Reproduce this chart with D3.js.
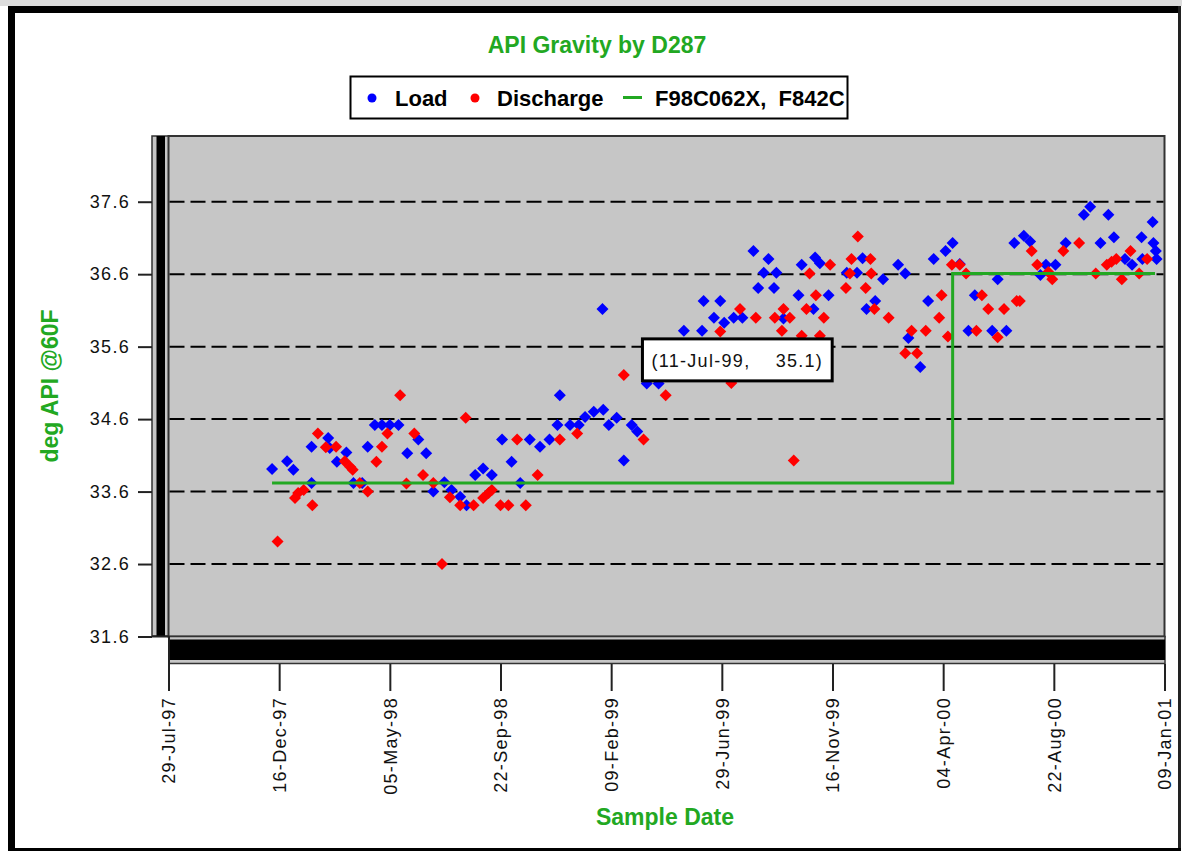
<!DOCTYPE html>
<html>
<head>
<meta charset="utf-8">
<script src="https://cdn.jsdelivr.net/npm/d3@7"></script>
<style>
body{margin:0;background:#fff;}
svg{display:block;font-family:Arial,"Liberation Sans",sans-serif;}
</style>
</head>
<body>
<script>
// dati
var loadDates = ["07-Dec-97","26-Dec-97","03-Jan-98","26-Jan-98","26-Jan-98","16-Feb-98","18-Feb-98","27-Feb-98","11-Mar-98","20-Mar-98",
  "31-Mar-98","07-Apr-98","16-Apr-98","25-Apr-98","05-May-98","16-May-98","27-May-98","10-Jun-98","20-Jun-98","29-Jun-98",
  "13-Jul-98","22-Jul-98","02-Aug-98","10-Aug-98","21-Aug-98","31-Aug-98","11-Sep-98","24-Sep-98","06-Oct-98","17-Oct-98",
  "29-Oct-98","11-Nov-98","23-Nov-98","03-Dec-98","06-Dec-98","19-Dec-98","30-Dec-98","07-Jan-99","18-Jan-99","30-Jan-99",
  "29-Jan-99","06-Feb-99","16-Feb-99","25-Feb-99","07-Mar-99","14-Mar-99","26-Mar-99","10-Apr-99","12-May-99","04-Jun-99",
  "06-Jun-99","19-Jun-99","27-Jun-99","02-Jul-99","14-Jul-99","25-Jul-99","08-Aug-99","14-Aug-99","21-Aug-99","27-Aug-99",
  "03-Sep-99","06-Sep-99","15-Sep-99","04-Oct-99","08-Oct-99","23-Oct-99","25-Oct-99","31-Oct-99","11-Nov-99","04-Dec-99",
  "17-Dec-99","24-Dec-99","29-Dec-99","09-Jan-00","19-Jan-00","07-Feb-00","16-Feb-00","20-Feb-00","06-Mar-00","16-Mar-00",
  "23-Mar-00","07-Apr-00","16-Apr-00","25-Apr-00","06-May-00","14-May-00","05-Jun-00","12-Jun-00","23-Jun-00","03-Jul-00",
  "15-Jul-00","23-Jul-00","05-Aug-00","12-Aug-00","24-Aug-00","06-Sep-00","29-Sep-00","07-Oct-00","20-Oct-00","30-Oct-00",
  "06-Nov-00","20-Nov-00","29-Nov-00","11-Dec-00","12-Dec-00","25-Dec-00","26-Dec-00","29-Dec-00","30-Dec-00"];
var loadValues = [33.91,34.02,33.90,34.22,33.72,34.34,34.20,34.01,34.14,33.72,
  33.72,34.22,34.52,34.52,34.52,34.52,34.13,34.32,34.13,33.60,
  33.73,33.62,33.53,33.41,33.83,33.92,33.83,34.32,34.01,33.72,
  34.32,34.22,34.32,34.52,34.93,34.52,34.52,34.63,34.70,34.73,
  36.12,34.52,34.62,34.03,34.52,34.43,35.09,35.09,35.82,35.82,
  36.23,36.00,36.23,35.93,36.00,36.00,36.92,36.41,36.62,36.81,
  36.41,36.62,35.99,36.31,36.73,36.12,36.83,36.75,36.31,36.62,
  36.62,36.82,36.12,36.23,36.53,36.73,36.61,35.72,35.32,36.23,
  36.81,36.92,37.03,36.74,35.82,36.31,35.82,36.53,35.82,37.03,
  37.13,37.05,36.59,36.73,36.73,37.03,37.42,37.53,37.03,37.42,
  37.11,36.81,36.73,37.11,36.81,37.32,37.03,36.92,36.81];

var dischargeDates = ["14-Dec-97","05-Jan-98","09-Jan-98","16-Jan-98","27-Jan-98","03-Feb-98","13-Feb-98","26-Feb-98","09-Mar-98","16-Mar-98",
  "19-Mar-98","28-Mar-98","07-Apr-98","18-Apr-98","25-Apr-98","02-May-98","18-May-98","26-May-98","05-Jun-98","16-Jun-98",
  "29-Jun-98","10-Jul-98","20-Jul-98","02-Aug-98","09-Aug-98","19-Aug-98","31-Aug-98","07-Sep-98","11-Sep-98","22-Sep-98",
  "02-Oct-98","13-Oct-98","24-Oct-98","08-Nov-98","06-Dec-98","28-Dec-98","25-Feb-99","22-Mar-99","19-Apr-99","27-Jun-99",
  "11-Jul-99","22-Jul-99","11-Aug-99","04-Sep-99","13-Sep-99","15-Sep-99","23-Sep-99","28-Sep-99","08-Oct-99","14-Oct-99",
  "18-Oct-99","26-Oct-99","31-Oct-99","05-Nov-99","13-Nov-99","03-Dec-99","08-Dec-99","10-Dec-99","18-Dec-99","28-Dec-99",
  "03-Jan-00","04-Jan-00","08-Jan-00","26-Jan-00","16-Feb-00","24-Feb-00","02-Mar-00","13-Mar-00","30-Mar-00","02-Apr-00",
  "10-Apr-00","15-Apr-00","25-Apr-00","03-May-00","16-May-00","23-May-00","31-May-00","12-Jun-00","20-Jun-00","06-Jul-00",
  "10-Jul-00","25-Jul-00","01-Aug-00","15-Aug-00","20-Aug-00","03-Sep-00","23-Sep-00","14-Oct-00","28-Oct-00","03-Nov-00",
  "09-Nov-00","16-Nov-00","27-Nov-00","08-Dec-00","18-Dec-00"];
var dischargeValues = [32.91,33.51,33.58,33.62,33.41,34.40,34.21,34.22,34.02,33.94,
  33.90,33.72,33.60,34.01,34.22,34.40,34.93,33.71,34.40,33.83,
  33.72,32.60,33.52,33.41,34.62,33.41,33.51,33.58,33.62,33.41,
  33.41,34.32,33.41,33.83,34.32,34.40,35.21,34.32,34.93,35.81,
  35.10,36.12,36.00,36.00,35.82,36.12,36.00,34.03,35.75,36.12,
  36.61,36.31,35.75,36.00,36.73,36.41,36.61,36.81,37.12,36.41,
  36.81,36.61,36.12,36.00,35.51,35.82,35.51,35.82,36.00,36.31,
  35.74,36.73,36.73,36.61,35.82,36.31,36.12,35.73,36.12,36.23,
  36.23,36.92,36.73,36.63,36.53,36.92,37.03,36.61,36.73,36.77,
  36.81,36.53,36.92,36.61,36.81];

// specifica F98C062X poi F842C (linea a gradino)
var specDates = ["07-Dec-97","16-Apr-00","28-Dec-00"];
var specValues = [33.72,36.61,36.61];

var yTicks = [31.6,32.6,33.6,34.6,35.6,36.6,37.6];
var xTicks = ["29-Jul-97","16-Dec-97","05-May-98","22-Sep-98","09-Feb-99","29-Jun-99","16-Nov-99","04-Apr-00","22-Aug-00","09-Jan-01"];

var tipDate = "11-Jul-99";
var tipValue = 35.1;

var green = "#22a822";
var plotFill = "#c6c6c6";

var svg = d3.select("body").append("svg")
    .attr("width", 1182)
    .attr("height", 851);

var parse = d3.timeParse("%d-%b-%y");

var x = d3.scaleTime()
    .domain([parse(xTicks[0]), parse(xTicks[xTicks.length-1])])
    .range([168.5, 1164.5]);
var y = d3.scaleLinear()
    .domain([31.6, 38.5])
    .range([636.5, 136.5]);

// cornice esterna
svg.append("rect").attr("x",0).attr("y",0).attr("width",1182).attr("height",6).attr("fill","#dcdcdc");
svg.append("rect").attr("x",8).attr("y",6).attr("width",1173).attr("height",7).attr("fill","#000");
svg.append("rect").attr("x",8).attr("y",6).attr("width",7).attr("height",845).attr("fill","#000");
svg.append("rect").attr("x",1178).attr("y",6).attr("width",3).attr("height",845).attr("fill","#222");
svg.append("rect").attr("x",8).attr("y",848).attr("width",1173).attr("height",3).attr("fill","#000");

// titolo
svg.append("text")
    .attr("x", 597).attr("y", 53)
    .attr("text-anchor","middle")
    .style("font-size","23px").style("font-weight","bold")
    .attr("fill", green)
    .text("API Gravity by D287");

// legenda
var legend = svg.append("g");
legend.append("rect")
    .attr("x",350.5).attr("y",76.5).attr("width",497).attr("height",42)
    .attr("fill","#fff").attr("stroke","#000").attr("stroke-width",2);
legend.append("circle").attr("cx",372).attr("cy",98).attr("r",4.5).attr("fill","#0000ff");
legend.append("text").attr("x",395).attr("y",105.5).text("Load");
legend.append("circle").attr("cx",475).attr("cy",98).attr("r",4.5).attr("fill","#ff0000");
legend.append("text").attr("x",497).attr("y",105.5).text("Discharge");
legend.append("line").attr("x1",623).attr("x2",642).attr("y1",97.5).attr("y2",97.5)
    .attr("stroke",green).attr("stroke-width",3);
legend.append("text").attr("x",655).attr("y",105.5).attr("xml:space","preserve").text("F98C062X,  F842C");
legend.selectAll("text").style("font-size","22px").style("font-weight","bold").attr("fill","#000");

// parete sinistra (effetto 3D)
svg.append("rect").attr("x",152).attr("y",136).attr("width",17).attr("height",500)
    .attr("fill",plotFill).attr("stroke","#333").attr("stroke-width",1.5);
svg.append("rect").attr("x",156.5).attr("y",136).attr("width",8.5).attr("height",500).attr("fill","#000");

// area del grafico
svg.append("rect").attr("x",168.5).attr("y",136).attr("width",996).attr("height",500.5)
    .attr("fill",plotFill).attr("stroke","#333").attr("stroke-width",2);

// pavimento
svg.append("rect").attr("x",169).attr("y",636.5).attr("width",996).attr("height",27)
    .attr("fill",plotFill).attr("stroke","#333").attr("stroke-width",1.5);
svg.append("rect").attr("x",169).attr("y",639.5).attr("width",996).attr("height",20.5).attr("fill","#000");
svg.append("line").attr("x1",169).attr("x2",169).attr("y1",636).attr("y2",664)
    .attr("stroke","#222").attr("stroke-width",2);

// griglia tratteggiata
svg.append("g").selectAll("line")
    .data(yTicks.filter(function(d){ return d > yTicks[0]; }))
    .enter().append("line")
    .attr("x1",169.5).attr("x2",1163.5)
    .attr("y1",function(d){ return y(d); })
    .attr("y2",function(d){ return y(d); })
    .attr("stroke","#000").attr("stroke-width",2)
    .attr("stroke-dasharray","15,6");

// asse y
var yAxis = svg.append("g")
    .attr("transform","translate(152,0)")
    .call(d3.axisLeft(y).tickValues(yTicks).tickSize(14).tickPadding(8).tickFormat(d3.format(".1f")));
yAxis.select(".domain").remove();
yAxis.selectAll(".tick line").attr("stroke","#222").attr("stroke-width",2);
yAxis.selectAll("text")
    .style("font-size","18px").style("letter-spacing","1.3px")
    .style("font-family","Arial, 'Liberation Sans', sans-serif")
    .attr("fill","#111");
svg.append("line").attr("x1",152).attr("x2",169).attr("y1",y(yTicks[0])).attr("y2",y(yTicks[0]))
    .attr("stroke","#222").attr("stroke-width",2);

// asse x
var xAxis = svg.append("g")
    .attr("transform","translate(0,664)")
    .call(d3.axisBottom(x).tickValues(xTicks.map(parse)).tickSize(27)
        .tickFormat(function(d,i){ return xTicks[i]; }));
xAxis.select(".domain").remove();
xAxis.selectAll(".tick line").attr("stroke","#222").attr("stroke-width",2);
xAxis.selectAll("text")
    .attr("transform","rotate(-90)")
    .attr("text-anchor","end")
    .attr("x",-33).attr("y",0).attr("dy","0.35em")
    .style("font-size","18px").style("letter-spacing","1.3px")
    .style("font-family","Arial, 'Liberation Sans', sans-serif")
    .attr("fill","#111");

// titoli degli assi
svg.append("text")
    .attr("x",665).attr("y",825)
    .attr("text-anchor","middle")
    .style("font-size","23px").style("font-weight","bold")
    .attr("fill",green)
    .text("Sample Date");
svg.append("text")
    .attr("transform","translate(50,386) rotate(-90)")
    .attr("text-anchor","middle").attr("dy","0.35em")
    .style("font-size","23px").style("font-weight","bold")
    .attr("fill",green)
    .text("deg API @60F");

// punti
var diamond = d3.symbol().type(d3.symbolSquare).size(72);

function drawSeries(dates, values, color){
    var pts = dates.map(function(d,i){ return {date: parse(d), value: values[i]}; });
    svg.append("g").selectAll("path")
        .data(pts)
        .enter().append("path")
        .attr("d", diamond)
        .attr("transform", function(d){
            return "translate(" + x(d.date) + "," + y(d.value) + ") rotate(45)";
        })
        .attr("fill", color);
}
drawSeries(loadDates, loadValues, "#0000ff");
drawSeries(dischargeDates, dischargeValues, "#ff0000");

// linea della specifica
var spec = specDates.map(function(d,i){ return {date: parse(d), value: specValues[i]}; });
svg.append("path")
    .datum(spec)
    .attr("d", d3.line()
        .x(function(d){ return x(d.date); })
        .y(function(d){ return y(d.value); })
        .curve(d3.curveStepAfter))
    .attr("fill","none")
    .attr("stroke",green)
    .attr("stroke-width",3);

// etichetta del punto
var px = x(parse(tipDate));
var py = y(tipValue);
var tip = svg.append("g");
var tipBox = tip.append("rect")
    .attr("fill","#fff").attr("stroke","#000").attr("stroke-width",3);
var tipText = tip.append("text")
    .attr("xml:space","preserve")
    .style("font-size","18px").style("letter-spacing","1.3px")
    .attr("fill","#111")
    .text("(" + tipDate + ",    " + d3.format(".1f")(tipValue) + ")");
var tw = tipText.node().getComputedTextLength();
var bw = tw + 18;
var bx = px + 6 - bw/2;
tipBox.attr("x",bx).attr("y",py - 44).attr("width",bw).attr("height",42);
tipText.attr("x",bx + 9).attr("y",py - 16);
</script>
</body>
</html>
